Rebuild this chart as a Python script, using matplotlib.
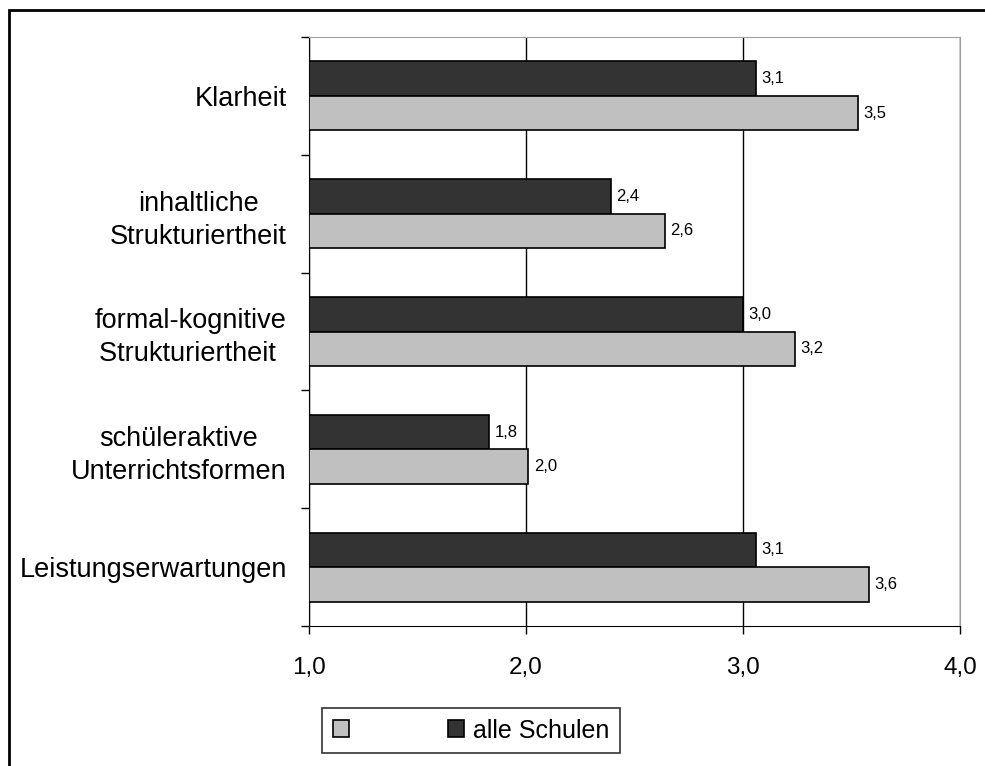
import matplotlib
matplotlib.use('Agg')
import matplotlib.pyplot as plt
from matplotlib.patches import Patch, Rectangle
from matplotlib.ticker import FixedLocator

# данные
categories = ['Klarheit', 'inhaltliche\nStrukturiertheit', 'formal-kognitive\nStrukturiertheit ',
              'schüleraktive\nUnterrichtsformen', 'Leistungserwartungen']
schule = [3.53, 2.64, 3.24, 2.01, 3.58]
alle_schulen = [3.06, 2.39, 3.00, 1.83, 3.06]
x_ticks = [1.0, 2.0, 3.0, 4.0]
x_labels = ['1,0', '2,0', '3,0', '4,0']

plt.rcParams['font.family'] = ['Liberation Sans', 'DejaVu Sans']

fig = plt.figure(figsize=(9.85, 7.66), dpi=100)
ax = fig.add_axes([309/985, 1 - 626/766, 651/985, 589/766])

h = 0.293
pos = list(range(len(categories)))
dark = ax.barh([p - h/2 for p in pos], [v - 1 for v in alle_schulen], height=h, left=1,
               color='#333333', edgecolor='black', linewidth=1.2, zorder=3)
light = ax.barh([p + h/2 for p in pos], [v - 1 for v in schule], height=h, left=1,
                color='#c0c0c0', edgecolor='black', linewidth=1.2, zorder=3)

# подписи значений
for p, v in zip(pos, alle_schulen):
    ax.annotate(f'{v:.1f}'.replace('.', ','), (v, p - h/2), xytext=(4, 0), textcoords='offset points',
                va='center', ha='left', fontsize=12)
for p, v in zip(pos, schule):
    ax.annotate(f'{v:.1f}'.replace('.', ','), (v, p + h/2), xytext=(4, 0), textcoords='offset points',
                va='center', ha='left', fontsize=12)

ax.set_xlim(1, 4)
ax.set_ylim(len(categories) - 0.5, -0.5)
ax.set_xticks(x_ticks)
ax.set_xticklabels(x_labels, fontsize=17.5)
ax.set_yticks(pos)
ax.set_yticklabels(categories, fontsize=19.5, multialignment='center', linespacing=1.34)
ax.yaxis.set_minor_locator(FixedLocator([p - 0.5 for p in range(len(categories) + 1)]))
ax.tick_params(axis='y', which='major', length=0, pad=16)
ax.tick_params(axis='y', which='minor', length=6, width=1, direction='out')
ax.tick_params(axis='x', length=6, width=1, direction='out', pad=16)

ax.set_axisbelow(True)
ax.xaxis.grid(True, color='black', linewidth=1)
ax.spines['left'].set_color('black')
ax.spines['bottom'].set_color('black')
ax.spines['top'].set_color('#a0a0a0')
ax.spines['right'].set_color('#a0a0a0')

# легенда
handles = [Patch(facecolor='#c0c0c0', edgecolor='black', linewidth=1.2),
           Patch(facecolor='#333333', edgecolor='black', linewidth=1.2)]
leg = fig.legend(handles, ['', 'alle Schulen'], loc='lower left', bbox_to_anchor=(322/985, 13/766),
                 ncol=2, fontsize=18, frameon=True, fancybox=False, borderaxespad=0,
                 handlelength=0.66, handleheight=0.66, handletextpad=0.35, columnspacing=3.6,
                 borderpad=0.42)
leg.get_frame().set_edgecolor('black')
leg.get_frame().set_linewidth(1.2)

# рамка
fig.patches.append(Rectangle((8.5/985, -0.1), 1.2, 1.1 - 9.5/766, transform=fig.transFigure,
                             fill=False, edgecolor='black', linewidth=2))

fig.savefig('out.png', dpi=100)
